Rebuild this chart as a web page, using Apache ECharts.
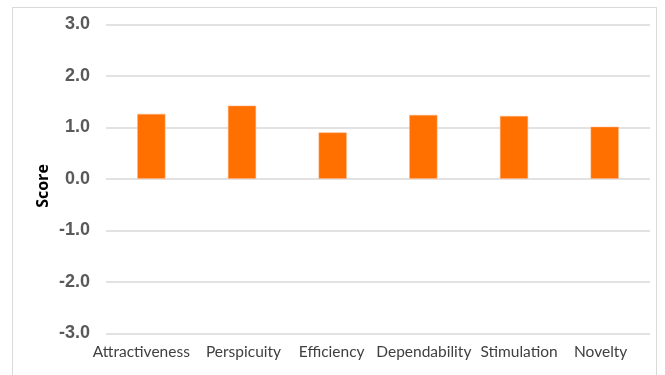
<!DOCTYPE html>
<html>
<head>
<meta charset="utf-8">
<script src="https://cdn.jsdelivr.net/npm/echarts@6/dist/echarts.min.js"></script>
<style>
  html, body { margin: 0; padding: 0; background: #fff; }
  #frame { position: absolute; left: 12px; top: 7px; width: 645px; height: 380px; border: 1px solid #d9d9d9; box-sizing: border-box; }
  #chart { position: absolute; left: 0; top: 0; width: 665px; height: 375px; }
</style>
</head>
<body>
<div id="frame"></div>
<div id="chart"></div>
<script>
// UEQ scale means
const categories = ['Attractiveness', 'Perspicuity', 'Efficiency', 'Dependability', 'Stimulation', 'Novelty'];
const scores = [1.26, 1.42, 0.90, 1.24, 1.22, 1.01];
const yTicks = { min: -3, max: 3, step: 1 };
const yTitle = 'Score';

// Category label text styles; horizontal padding nudges crowded labels apart
const labelBase = { color: '#404040', fontFamily: 'Lato', fontSize: 15.5 };
const labelRich = {
  c0: Object.assign({ padding: [0, 20, 0, 0] }, labelBase),
  c1: Object.assign({ padding: [0, 0, 0, 3] }, labelBase),
  c2: Object.assign({ padding: [0, 2, 0, 0] }, labelBase),
  c3: Object.assign({ padding: [0, 0, 0, 1] }, labelBase),
  c4: Object.assign({ padding: [0, 0, 0, 10] }, labelBase),
  c5: Object.assign({ padding: [0, 8, 0, 0] }, labelBase)
};

const chart = echarts.init(document.getElementById('chart'), null, { renderer: 'canvas' });
chart.setOption({
  animation: false,
  grid: { left: 106, right: 15, top: 24.3, bottom: 41.7, containLabel: false },
  graphic: [{
    type: 'text',
    x: 43,
    y: 186,
    rotation: Math.PI / 2,
    style: {
      text: yTitle,
      fill: '#000',
      font: 'bold 16px "Open Sans"',
      align: 'center',
      verticalAlign: 'middle'
    }
  }],
  xAxis: {
    type: 'category',
    data: categories,
    axisLine: { show: false },
    axisTick: { show: false },
    axisLabel: {
      color: '#404040',
      fontFamily: 'Lato',
      fontSize: 15.5,
      margin: 11,
      interval: 0,
      formatter: (v, i) => '{c' + i + '|' + v + '}',
      rich: labelRich
    }
  },
  yAxis: {
    type: 'value',
    min: yTicks.min,
    max: yTicks.max,
    interval: yTicks.step,
    axisLine: { show: false },
    axisTick: { show: false },
    axisLabel: {
      color: '#595959',
      fontWeight: 'bold',
      fontSize: 18,
      fontFamily: 'Liberation Sans',
      margin: 16,
      formatter: v => v.toFixed(1)
    },
    splitLine: { lineStyle: { color: '#d9d9d9', width: 1.5 } }
  },
  series: [{
    type: 'bar',
    data: scores,
    barWidth: '31%',
    itemStyle: { color: '#ff7000', borderColor: '#ffb080', borderWidth: 0.5 }
  }]
});
</script>
</body>
</html>
